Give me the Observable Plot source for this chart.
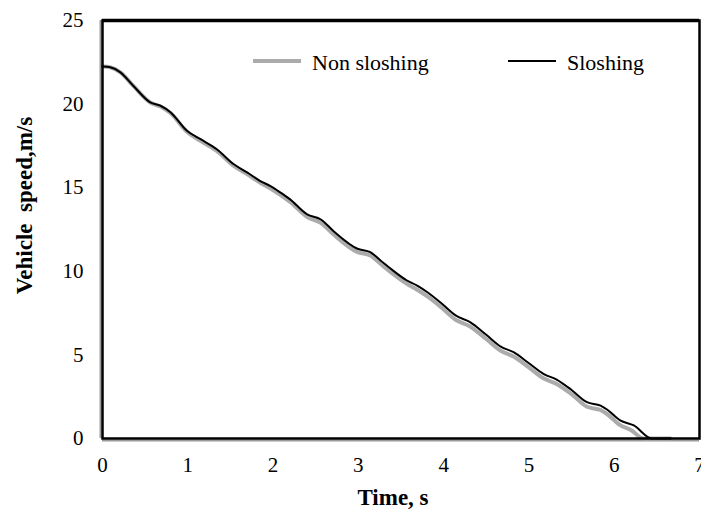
<!DOCTYPE html>
<html>
<head>
<meta charset="utf-8">
<script src="https://cdn.jsdelivr.net/npm/d3@7"></script>
<script src="https://cdn.jsdelivr.net/npm/@observablehq/plot@0.6"></script>
<style>
  html, body { margin: 0; padding: 0; background: #fff; }
  #chart { width: 701px; height: 518px; }
  #chart svg, #chart svg text { font-family: "Liberation Serif", "Times New Roman", serif !important; }
</style>
</head>
<body>
<div id="chart"></div>
<script>
// Sloshing (black) series
const time = [0, 0.09, 0.21, 0.36, 0.56, 0.68, 0.80, 0.99, 1.15, 1.34, 1.54, 1.70, 1.85, 1.97, 2.09, 2.20, 2.40, 2.56, 2.71, 2.99, 3.14, 3.26, 3.38, 3.57, 3.69, 3.81, 3.96, 4.14, 4.31, 4.50, 4.67, 4.82, 5.00, 5.17, 5.33, 5.50, 5.68, 5.84, 5.92, 6.07, 6.23, 6.44, 6.66];
const sloshing = [22.25, 22.2, 21.9, 21.1, 20.1, 19.9, 19.5, 18.4, 17.9, 17.3, 16.4, 15.9, 15.4, 15.1, 14.7, 14.3, 13.4, 13.1, 12.4, 11.35, 11.14, 10.65, 10.15, 9.45, 9.15, 8.75, 8.15, 7.36, 6.96, 6.2, 5.5, 5.16, 4.5, 3.87, 3.51, 2.9, 2.17, 1.97, 1.72, 1.08, 0.78, 0, 0];
// Non sloshing (grey) series
const timeNon = [0, 0.09, 0.21, 0.36, 0.56, 0.68, 0.80, 0.99, 1.15, 1.34, 1.54, 1.70, 1.85, 1.97, 2.09, 2.20, 2.40, 2.56, 2.71, 2.99, 3.14, 3.26, 3.38, 3.57, 3.69, 3.81, 3.96, 4.14, 4.31, 4.50, 4.67, 4.82, 5.00, 5.17, 5.33, 5.50, 5.68, 5.84, 5.92, 6.07, 6.20, 6.34, 6.66];
const nonSloshing = [22.25, 22.2, 21.9, 21.1, 20.1, 19.85, 19.45, 18.35, 17.8, 17.2, 16.3, 15.8, 15.3, 14.95, 14.55, 14.15, 13.25, 12.9, 12.2, 11.15, 10.95, 10.45, 9.95, 9.25, 8.9, 8.5, 7.9, 7.1, 6.7, 5.95, 5.25, 4.9, 4.25, 3.6, 3.25, 2.65, 1.9, 1.7, 1.45, 0.8, 0.5, 0, 0];

const xTicks = [0, 1, 2, 3, 4, 5, 6, 7];
const yTicks = [0, 5, 10, 15, 20, 25];
const seriesNames = ["Non sloshing", "Sloshing"];
const xTitle = "Time, s";
const yTitle = "Vehicle  speed,m/s";

const slosh = time.map((t, i) => ({t, v: sloshing[i]}));
const non = timeNon.map((t, i) => ({t, v: nonSloshing[i]}));

const chart = Plot.plot({
  width: 701,
  height: 518,
  marginLeft: 102,
  marginRight: 2,
  marginTop: 20,
  marginBottom: 80,
  style: {fontFamily: "Liberation Serif, Times New Roman, serif", fontSize: "21px", color: "black", background: "white", overflow: "visible"},
  x: {domain: [0, 7], ticks: xTicks, tickFormat: d3.format("d"), tickSize: 0, tickPadding: 19, label: null},
  y: {domain: [0, 25], ticks: yTicks, tickFormat: d3.format("d"), tickSize: 0, tickPadding: 19, label: null},
  marks: [
    Plot.ruleX([0], {stroke: "#9a9a9a", strokeWidth: 2, dx: -2}),
    Plot.ruleY([0], {stroke: "#9a9a9a", strokeWidth: 2, dy: 2}),
    Plot.line(non, {x: "t", y: "v", stroke: "#ababab", strokeWidth: 4, curve: "monotone-x"}),
    Plot.line(slosh, {x: "t", y: "v", stroke: "black", strokeWidth: 2, curve: "monotone-x"}),
    Plot.frame({stroke: "black", strokeWidth: 2.5}),
    Plot.ruleY([25], {stroke: "black", strokeWidth: 3.5}),
    Plot.text([xTitle], {text: d => d, frameAnchor: "bottom", textAnchor: "middle", dx: -8, dy: 66, fontWeight: "bold", fontSize: 23}),
    Plot.text([yTitle], {text: d => d, frameAnchor: "left", textAnchor: "middle", rotate: -90, dx: -78, dy: -24, fontWeight: "bold", fontSize: 23})
  ]
});

document.getElementById("chart").appendChild(chart);

// Legend inside the plot area
const svg = d3.select(chart);
const legend = svg.append("g")
  .attr("font-family", "Liberation Serif, Times New Roman, serif")
  .attr("font-size", 22)
  .attr("text-anchor", "start");
const items = [
  {name: seriesNames[0], color: "#ababab", w: 4, x: 253},
  {name: seriesNames[1], color: "black", w: 2, x: 508}
];
items.forEach(it => {
  legend.append("line")
    .attr("x1", it.x).attr("x2", it.x + 48)
    .attr("y1", 61).attr("y2", 61)
    .attr("stroke", it.color).attr("stroke-width", it.w);
  legend.append("text")
    .attr("x", it.x + 59).attr("y", 70)
    .attr("text-anchor", "start")
    .attr("fill", "black")
    .text(it.name);
});
</script>
</body>
</html>
